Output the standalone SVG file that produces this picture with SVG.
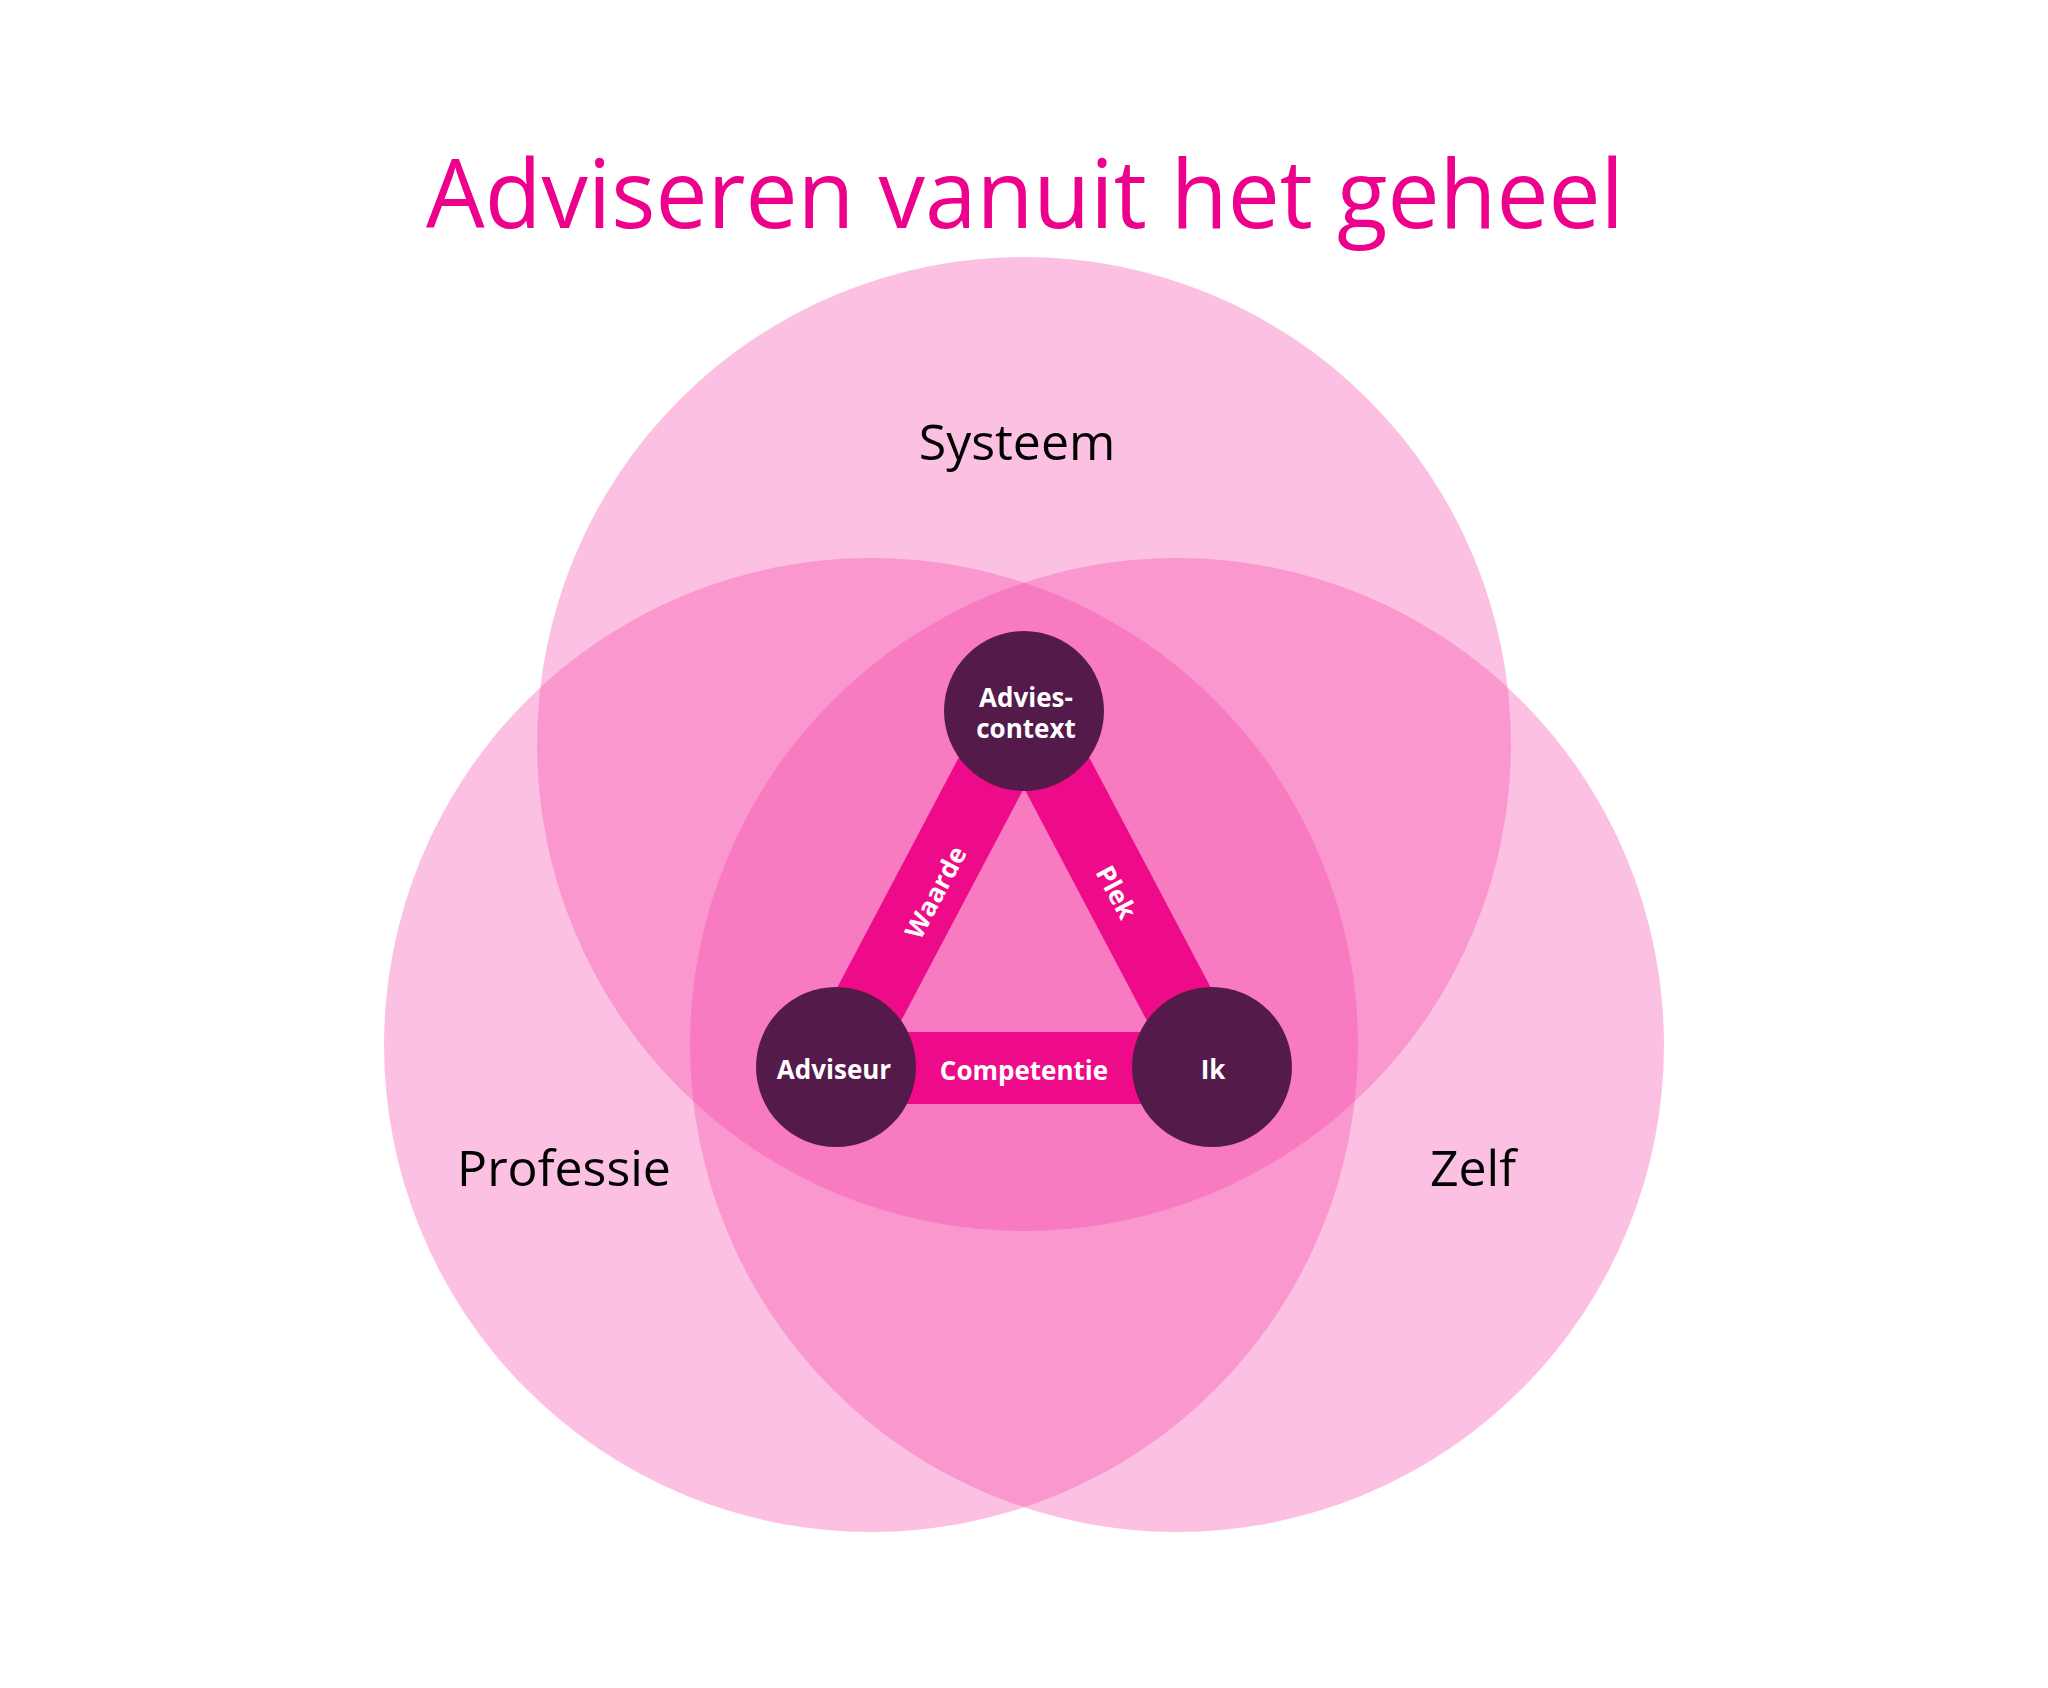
<svg xmlns="http://www.w3.org/2000/svg" width="2048" height="1688" viewBox="0 0 2048 1688">
<style>
.c{fill:#f642a8;fill-opacity:0.33}
.n{fill:#541a4a}
.w{fill:#fff;font-family:"Open Sans","Liberation Sans",sans-serif;font-weight:bold;font-size:26px;text-anchor:middle}
.k{fill:#000;font-family:"Open Sans","Liberation Sans",sans-serif;font-size:50px;text-anchor:middle}
</style>
<rect width="2048" height="1688" fill="#fff"/>
<text x="1025" y="228" font-family="'Open Sans','Liberation Sans',sans-serif" font-size="96" fill="#ec008c" text-anchor="middle" textLength="1198" lengthAdjust="spacingAndGlyphs">Adviseren vanuit het geheel</text>
<g id="circles">
<circle class="c" cx="1024" cy="744" r="487"/>
<circle class="c" cx="871" cy="1045" r="487"/>
<circle class="c" cx="1177" cy="1045" r="487"/>
</g>
<text class="k" x="1017" y="460">Systeem</text>
<text class="k" x="564" y="1186">Professie</text>
<text class="k" x="1473" y="1186">Zelf</text>
<g id="connectors" stroke="#ee0b8a" stroke-width="72">
<line x1="1024" y1="711" x2="836" y2="1067"/>
<line x1="1024" y1="711" x2="1212" y2="1067"/>
<line x1="836" y1="1068" x2="1212" y2="1068"/>
</g>
<text class="w" transform="translate(935,892) rotate(-62)" y="10">Waarde</text>
<text class="w" transform="translate(1117,892) rotate(62)" y="10">Plek</text>
<text class="w" x="1024" y="1080">Competentie</text>
<g id="advies"><circle class="n" cx="1024" cy="711" r="80"/><text class="w"><tspan x="1026" y="707">Advies-</tspan><tspan x="1026" y="738">context</tspan></text></g>
<g id="adviseur"><circle class="n" cx="836" cy="1067" r="80"/><text class="w" x="834" y="1079">Adviseur</text></g>
<g id="ik"><circle class="n" cx="1212" cy="1067" r="80"/><text class="w" x="1213" y="1079">Ik</text></g>
</svg>
